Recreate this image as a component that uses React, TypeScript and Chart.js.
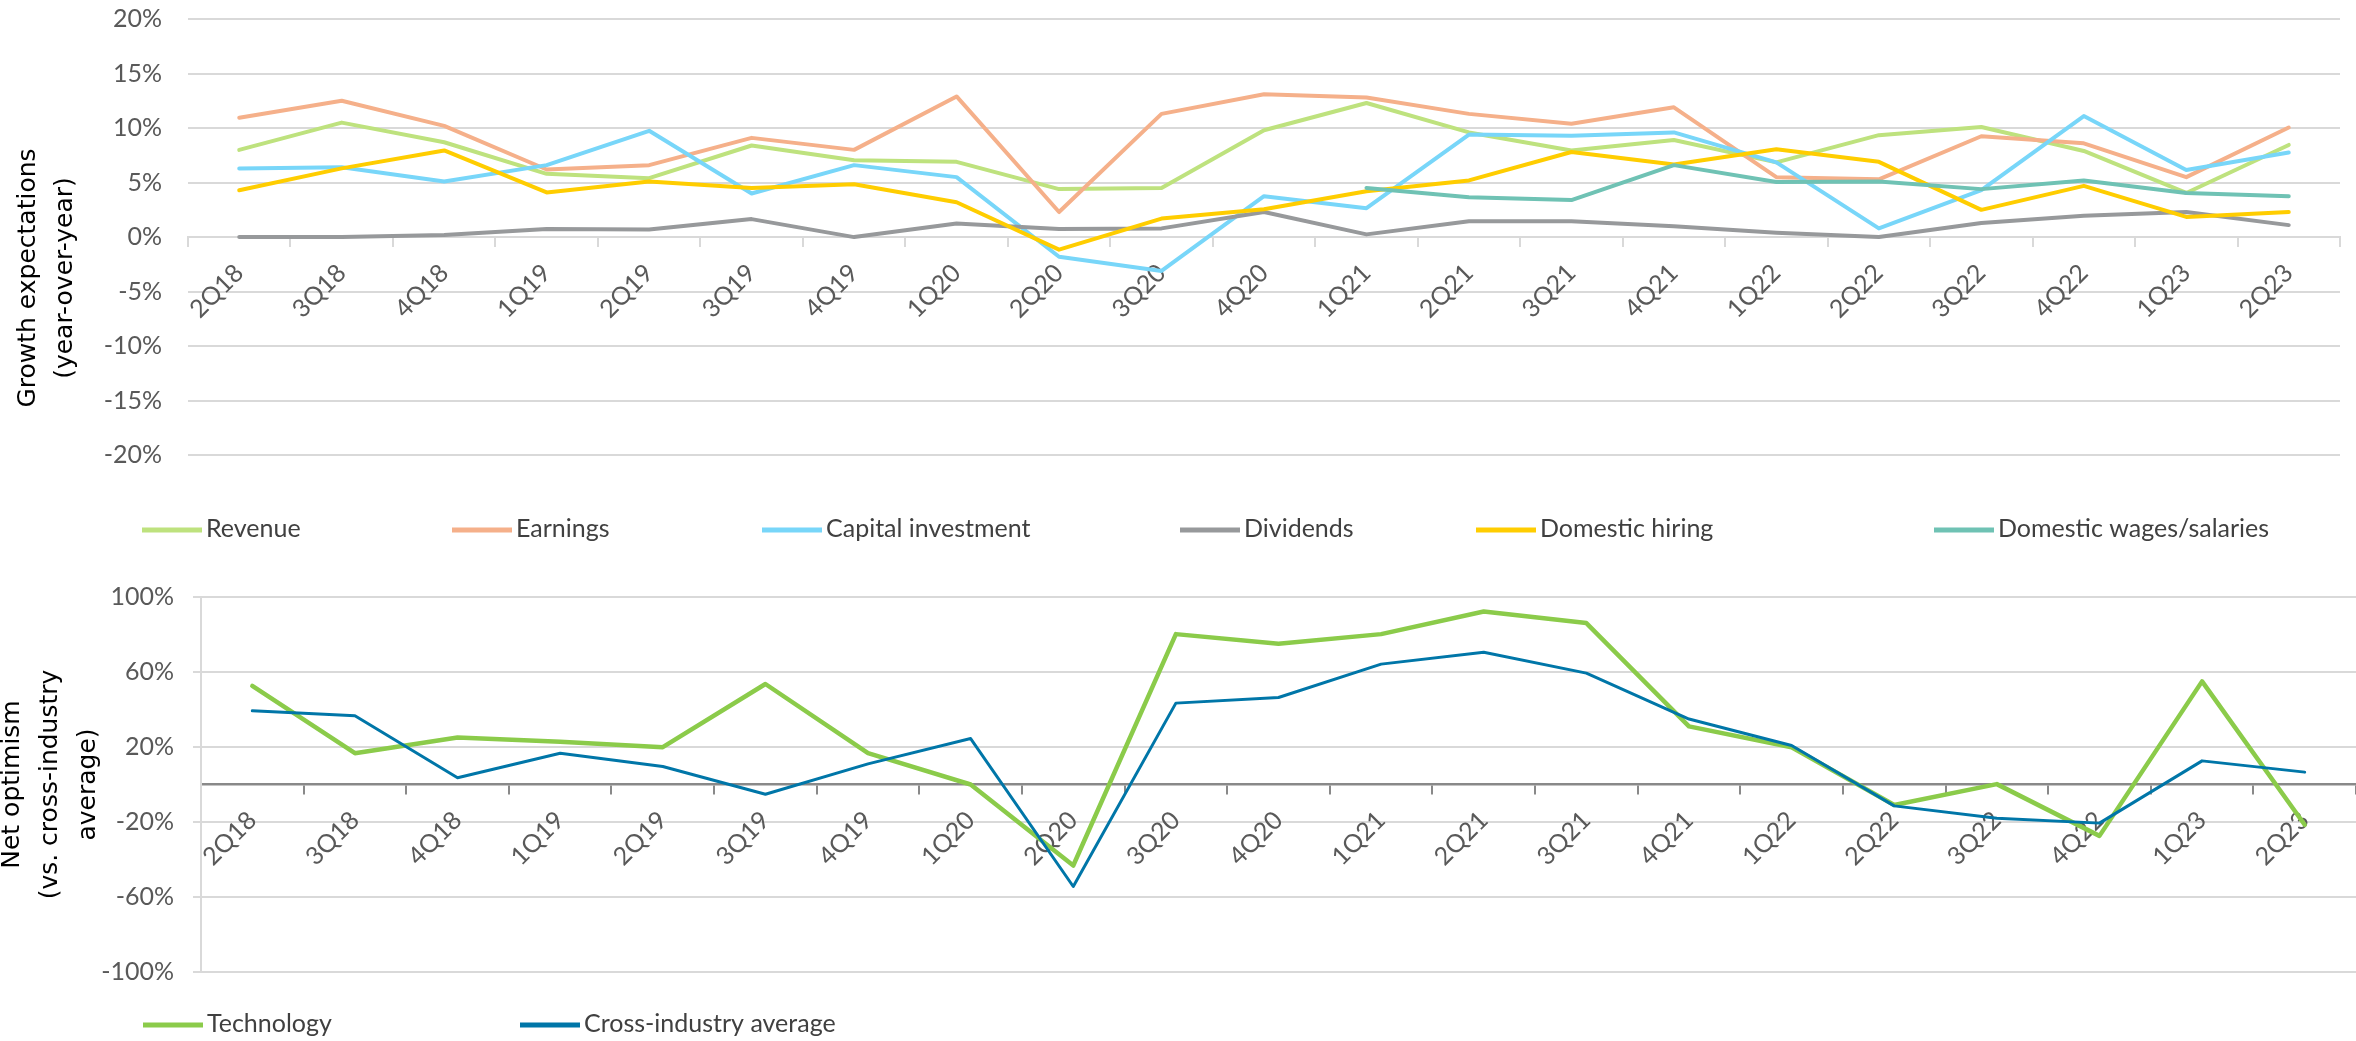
import React, { useEffect, useRef } from 'react';
import { Chart, registerables } from 'chart.js';

Chart.register(...registerables);

// ---------- data ----------
const categories = [
  '2Q18', '3Q18', '4Q18', '1Q19', '2Q19', '3Q19', '4Q19', '1Q20', '2Q20', '3Q20', '4Q20',
  '1Q21', '2Q21', '3Q21', '4Q21', '1Q22', '2Q22', '3Q22', '4Q22', '1Q23', '2Q23',
];

const revenue = [8.0, 10.5, 8.7, 5.8, 5.4, 8.4, 7.05, 6.9, 4.4, 4.5, 9.8, 12.3, 9.6, 7.95, 8.9, 6.85, 9.35, 10.1, 7.9, 4.05, 8.45];
const earnings = [10.95, 12.5, 10.2, 6.2, 6.6, 9.1, 8.0, 12.9, 2.3, 11.3, 13.1, 12.8, 11.3, 10.4, 11.9, 5.5, 5.3, 9.25, 8.6, 5.5, 10.05];
const capitalInvestment = [6.3, 6.4, 5.1, 6.6, 9.75, 4.0, 6.6, 5.5, -1.8, -3.1, 3.75, 2.65, 9.4, 9.3, 9.6, 6.85, 0.8, 4.3, 11.1, 6.15, 7.75];
const dividends = [0, 0, 0.2, 0.75, 0.7, 1.65, 0, 1.25, 0.75, 0.8, 2.3, 0.25, 1.45, 1.45, 1.0, 0.4, 0, 1.3, 1.95, 2.3, 1.1];
const domesticHiring = [4.3, 6.3, 7.95, 4.1, 5.1, 4.5, 4.85, 3.2, -1.15, 1.7, 2.55, 4.2, 5.2, 7.8, 6.65, 8.05, 6.9, 2.5, 4.7, 1.85, 2.3];
const domesticWages = [null, null, null, null, null, null, null, null, null, null, null, 4.5, 3.65, 3.4, 6.6, 5.05, 5.1, 4.4, 5.2, 4.05, 3.75];

const technology = [52.6, 16.7, 25.1, 22.8, 19.9, 53.6, 16.7, 0, -43.2, 80.2, 75.1, 80.2, 92.3, 86.1, 31.0, 19.9, -10.9, 0.2, -27.4, 55.0, -21.5];
const crossIndustry = [39.3, 36.7, 3.6, 16.7, 9.6, -5.2, 11.0, 24.5, -54.4, 43.4, 46.4, 64.2, 70.5, 59.4, 34.9, 20.8, -11.4, -18.0, -20.6, 12.6, 6.6];

const topSeriesNames = ['Revenue', 'Earnings', 'Capital investment', 'Dividends', 'Domestic hiring', 'Domestic wages/salaries'];
const bottomSeriesNames = ['Technology', 'Cross-industry average'];
const topTitle = ['Growth expectations', '(year-over-year)'];
const bottomTitle = ['Net optimism', '(vs. cross-industry', 'average)'];

// ---------- styles ----------
const TICK_FONT = "Lato, 'Liberation Sans', sans-serif";
const TITLE_FONT = "'DejaVu Sans', Verdana, sans-serif";
const TICK_COLOR = '#595959';
const GRID = '#D9D9D9';

const topColors = ['#BEE27E', '#F5B08A', '#78D6F9', '#97999B', '#FFCD00', '#6FC2B4'];
const bottomColors = ['#8BCB4A', '#0076A8'];

const lineLegend = {
  id: 'lineLegend',
  afterDraw(chart: any, _args: any, opts: any) {
    const ctx = chart.ctx;
    ctx.save();
    ctx.font = `${opts.fontSize}px ${TICK_FONT}`;
    ctx.textBaseline = 'middle';
    ctx.textAlign = 'left';
    chart.data.datasets.forEach((ds: any, i: number) => {
      const x = opts.xs[i];
      ctx.strokeStyle = ds.borderColor;
      ctx.lineWidth = opts.thickness;
      ctx.lineCap = 'butt';
      ctx.beginPath();
      ctx.moveTo(x, opts.y);
      ctx.lineTo(x + opts.markerWidth, opts.y);
      ctx.stroke();
      ctx.fillStyle = opts.color;
      ctx.fillText(ds.label, x + opts.markerWidth + opts.gap, opts.y - 1);
    });
    ctx.restore();
  },
};

function topConfig(): any {
  const series = [revenue, earnings, capitalInvestment, dividends, domesticHiring, domesticWages];
  return {
    type: 'line',
    data: {
      labels: categories,
      datasets: series.map((d, i) => ({
        label: topSeriesNames[i],
        data: d,
        borderColor: topColors[i],
        backgroundColor: topColors[i],
        borderWidth: 4,
        pointRadius: 0,
        tension: 0,
        fill: false,
        borderJoinStyle: 'round',
        borderCapStyle: 'round',
        order: series.length - 1 - i,
      })),
    },
    options: {
      responsive: false,
      animation: false,
      devicePixelRatio: 1,
      layout: { padding: { top: 19, right: 16, bottom: 23, left: 0 } },
      plugins: {
        legend: { display: false },
        tooltip: { enabled: false },
        lineLegend: { y: 530, xs: [142, 452, 762, 1180, 1476, 1934], markerWidth: 60, thickness: 5, gap: 4, fontSize: 25, color: '#404040' },
      },
      scales: {
        x: {
          type: 'category',
          position: { y: 0 },
          offset: true,
          grid: { offset: true, drawOnChartArea: false, drawTicks: true, tickLength: 9, color: GRID, tickColor: GRID, lineWidth: 2, tickWidth: 2 },
          border: { display: true, color: GRID, width: 2 },
          ticks: { autoSkip: false, maxRotation: 45, minRotation: 45, padding: 12, color: TICK_COLOR, font: { family: TICK_FONT, size: 25 } },
        },
        y: {
          type: 'linear',
          min: -27.5,
          max: 20,
          afterBuildTicks: (s: any) => {
            s.ticks = s.ticks.filter((t: any) => t.value >= -20 && t.value <= 20 && Math.abs(t.value % 5) < 1e-6);
          },
          afterFit: (s: any) => { s.width = 188; },
          ticks: { stepSize: 5, padding: 0, color: TICK_COLOR, font: { family: TICK_FONT, size: 25 }, callback: (v: any) => `${v}%` },
          grid: { color: GRID, lineWidth: 2, drawTicks: true, tickLength: 26, tickColor: 'rgba(0,0,0,0)' },
          border: { display: false },
          title: { display: true, text: topTitle, color: '#000', font: { family: TITLE_FONT, size: 25, lineHeight: 1.48 }, padding: { top: 10, bottom: 0 } },
        },
      },
    },
    plugins: [lineLegend],
  };
}

function bottomConfig(): any {
  const series = [technology, crossIndustry];
  const widths = [4.5, 3];
  return {
    type: 'line',
    data: {
      labels: categories,
      datasets: series.map((d, i) => ({
        label: bottomSeriesNames[i],
        data: d,
        borderColor: bottomColors[i],
        backgroundColor: bottomColors[i],
        borderWidth: widths[i],
        pointRadius: 0,
        tension: 0,
        fill: false,
        borderJoinStyle: 'round',
        borderCapStyle: 'round',
        order: series.length - 1 - i,
      })),
    },
    options: {
      responsive: false,
      animation: false,
      devicePixelRatio: 1,
      layout: { padding: { top: 37, right: 0, bottom: 69, left: 0 } },
      plugins: {
        legend: { display: false },
        tooltip: { enabled: false },
        lineLegend: { y: 465, xs: [143, 520], markerWidth: 60, thickness: 5, gap: 4, fontSize: 25, color: '#404040' },
      },
      scales: {
        x: {
          type: 'category',
          position: { y: 0 },
          offset: true,
          grid: { offset: true, drawOnChartArea: false, drawTicks: true, tickLength: 9, color: '#898989', tickColor: '#898989', lineWidth: 2, tickWidth: 2 },
          border: { display: true, color: '#898989', width: 2.5 },
          ticks: { autoSkip: false, maxRotation: 45, minRotation: 45, padding: 12, color: TICK_COLOR, font: { family: TICK_FONT, size: 25 } },
        },
        y: {
          type: 'linear',
          min: -100,
          max: 100,
          afterFit: (s: any) => { s.width = 201; },
          ticks: { stepSize: 40, padding: 19, color: TICK_COLOR, font: { family: TICK_FONT, size: 25 }, callback: (v: any) => `${v}%` },
          grid: { color: GRID, lineWidth: 2, drawTicks: true, tickLength: 8 },
          border: { display: true, color: GRID, width: 2 },
          title: { display: true, text: bottomTitle, color: '#000', font: { family: TITLE_FONT, size: 25, lineHeight: 1.52 }, padding: { top: -7, bottom: 0 } },
        },
      },
    },
    plugins: [lineLegend],
  };
}

export default function App() {
  const topRef = useRef<HTMLCanvasElement>(null);
  const bottomRef = useRef<HTMLCanvasElement>(null);

  useEffect(() => {
    const top = new Chart(topRef.current as HTMLCanvasElement, topConfig());
    const bottom = new Chart(bottomRef.current as HTMLCanvasElement, bottomConfig());
    return () => {
      top.destroy();
      bottom.destroy();
    };
  }, []);

  return (
    <div style={{ position: 'absolute', left: 0, top: 0, width: 2356, height: 1041, background: '#fff' }}>
      <canvas ref={topRef} width={2356} height={560} style={{ display: 'block', width: 2356, height: 560 }} />
      <canvas ref={bottomRef} width={2356} height={481} style={{ display: 'block', width: 2356, height: 481 }} />
    </div>
  );
}
